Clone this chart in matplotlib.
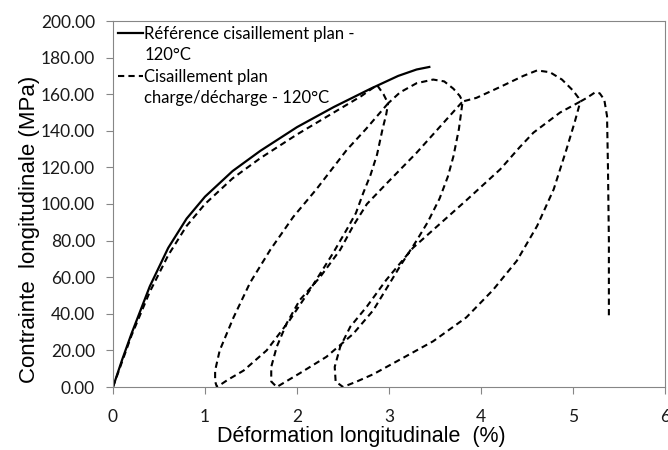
import matplotlib
matplotlib.use("Agg")
import matplotlib.pyplot as plt
from matplotlib.lines import Line2D

# reference curve (monotonic loading)
ref_strain = [0, 0.1, 0.2, 0.4, 0.6, 0.8, 1.0, 1.3, 1.6, 2.0, 2.4, 2.8, 3.1, 3.3, 3.45]
ref_stress = [0, 15, 29, 55, 76, 92, 104, 118, 129, 142, 153, 163, 170, 173.5, 175]

# load/unload test, read piece by piece along the path
load1_x = [0, 0.2, 0.4, 0.6, 0.8, 1.0, 1.3, 1.6, 2.0, 2.4, 2.7, 2.87, 2.94, 2.99]
load1_y = [0, 28, 52, 72, 88, 100, 114, 125, 138, 150, 159, 165, 160, 155]
unload1_x = [2.99, 2.75, 2.54, 2.21, 1.96, 1.71, 1.49, 1.31, 1.16, 1.11, 1.11, 1.13]
unload1_y = [155, 141, 129.5, 108, 93, 75, 57, 38, 20, 9, 3, 0]
reload1_x = [1.13, 1.25, 1.42, 1.67, 1.92, 2.14, 2.39, 2.54, 2.64, 2.72, 2.8, 2.87, 2.93, 2.97, 2.99,
             3.12, 3.3, 3.48, 3.6, 3.7, 3.77, 3.8]
reload1_y = [0, 4, 9, 20, 36.5, 53, 73, 86, 95, 106, 116, 127, 141, 149, 155,
             161, 166, 168, 167, 163, 159, 156]
unload2_x = [3.8, 3.55, 3.3, 2.97, 2.76, 2.61, 2.47, 2.25, 2.03, 1.89, 1.78, 1.72, 1.72, 1.78]
unload2_y = [156, 142, 128, 111, 100, 88, 75, 60, 47.5, 35, 22, 11, 3, 0]
reload2_x = [1.78, 2.03, 2.32, 2.61, 2.83, 3.12, 3.3, 3.42, 3.55, 3.64, 3.7, 3.76, 3.8,
             3.95, 4.21, 4.46, 4.61, 4.75, 4.88, 5.0, 5.06, 5.08]
reload2_y = [0, 7.5, 16.5, 29, 42, 66, 80, 90, 103, 115, 126, 141, 156,
             158, 164, 170, 173, 172, 168, 162, 158, 156]
unload3_x = [5.08, 4.86, 4.57, 4.42, 4.21, 3.84, 3.55, 3.26, 2.97, 2.76, 2.58, 2.47, 2.41, 2.42, 2.5]
unload3_y = [156, 150, 139, 131, 119, 102, 89, 76, 58.5, 44, 33, 22, 11, 3, 0]
reload3_x = [2.5, 2.65, 2.83, 3.12, 3.48, 3.84, 4.13, 4.39, 4.61, 4.79, 4.93, 5.02, 5.08,
             5.15, 5.24, 5.29, 5.34, 5.37, 5.38, 5.39, 5.39]
reload3_y = [0, 3, 7, 15, 25, 38, 53, 69, 88, 108, 130, 145, 156,
             158, 161, 160.5, 157, 148, 120, 80, 38]

cyc_x = load1_x + unload1_x + reload1_x + unload2_x + reload2_x + unload3_x + reload3_x
cyc_y = load1_y + unload1_y + reload1_y + unload2_y + reload2_y + unload3_y + reload3_y

x_ticks = [0, 1, 2, 3, 4, 5, 6]
y_ticks = [0, 20, 40, 60, 80, 100, 120, 140, 160, 180, 200]

grey = "#868686"

fig = plt.figure(figsize=(6.68, 4.5), dpi=100)
ax = fig.add_axes([113 / 668, 1 - 387 / 450, 552 / 668, 366 / 450])

ax.plot(ref_strain, ref_stress, color="black", linewidth=1.6, solid_capstyle="butt")
ax.plot(cyc_x, cyc_y, color="black", linewidth=1.5, linestyle=(0, (3, 2)))

ax.set_xlim(0, 6)
ax.set_ylim(0, 200)
ax.set_xticks(x_ticks)
ax.set_yticks(y_ticks)
ax.set_xticklabels([str(v) for v in x_ticks], fontfamily="Lato", fontsize=12.5)
ax.set_yticklabels(["%.2f" % v for v in y_ticks], fontfamily="Lato", fontsize=12.5)
ax.tick_params(axis="x", direction="out", length=5, width=0.8, color=grey, pad=11, labelcolor="#1a1a1a")
ax.tick_params(axis="y", direction="out", length=5, width=0.8, color=grey, pad=8, labelcolor="#1a1a1a")
for s in ax.spines.values():
    s.set_color(grey)
    s.set_linewidth(0.8)

ax.set_xlabel("Déformation longitudinale  (%)", fontfamily="Liberation Sans", fontsize=15.5)
ax.set_ylabel("Contrainte  longitudinale (MPa)", fontfamily="Liberation Sans", fontsize=16)
ax.xaxis.set_label_coords(0.449, -0.107)
ax.yaxis.set_label_coords(-0.132, 0.43)

# legend: continuation lines shown as entries without handle
handles = [Line2D([], [], color="black", linewidth=1.6),
           Line2D([], [], color="none"),
           Line2D([], [], color="black", linewidth=1.5, linestyle=(0, (3, 2))),
           Line2D([], [], color="none")]
labels = ["Référence cisaillement plan -", "120°C", "Cisaillement plan", "charge/décharge - 120°C"]
ax.legend(handles, labels, loc="upper left", bbox_to_anchor=(0.0, 1.0), frameon=False,
          prop={"family": "Lato", "size": 12}, handlelength=1.5, handletextpad=0.08,
          labelspacing=0.33, borderpad=0.1, borderaxespad=0.2)

fig.savefig("out.png", dpi=100)
